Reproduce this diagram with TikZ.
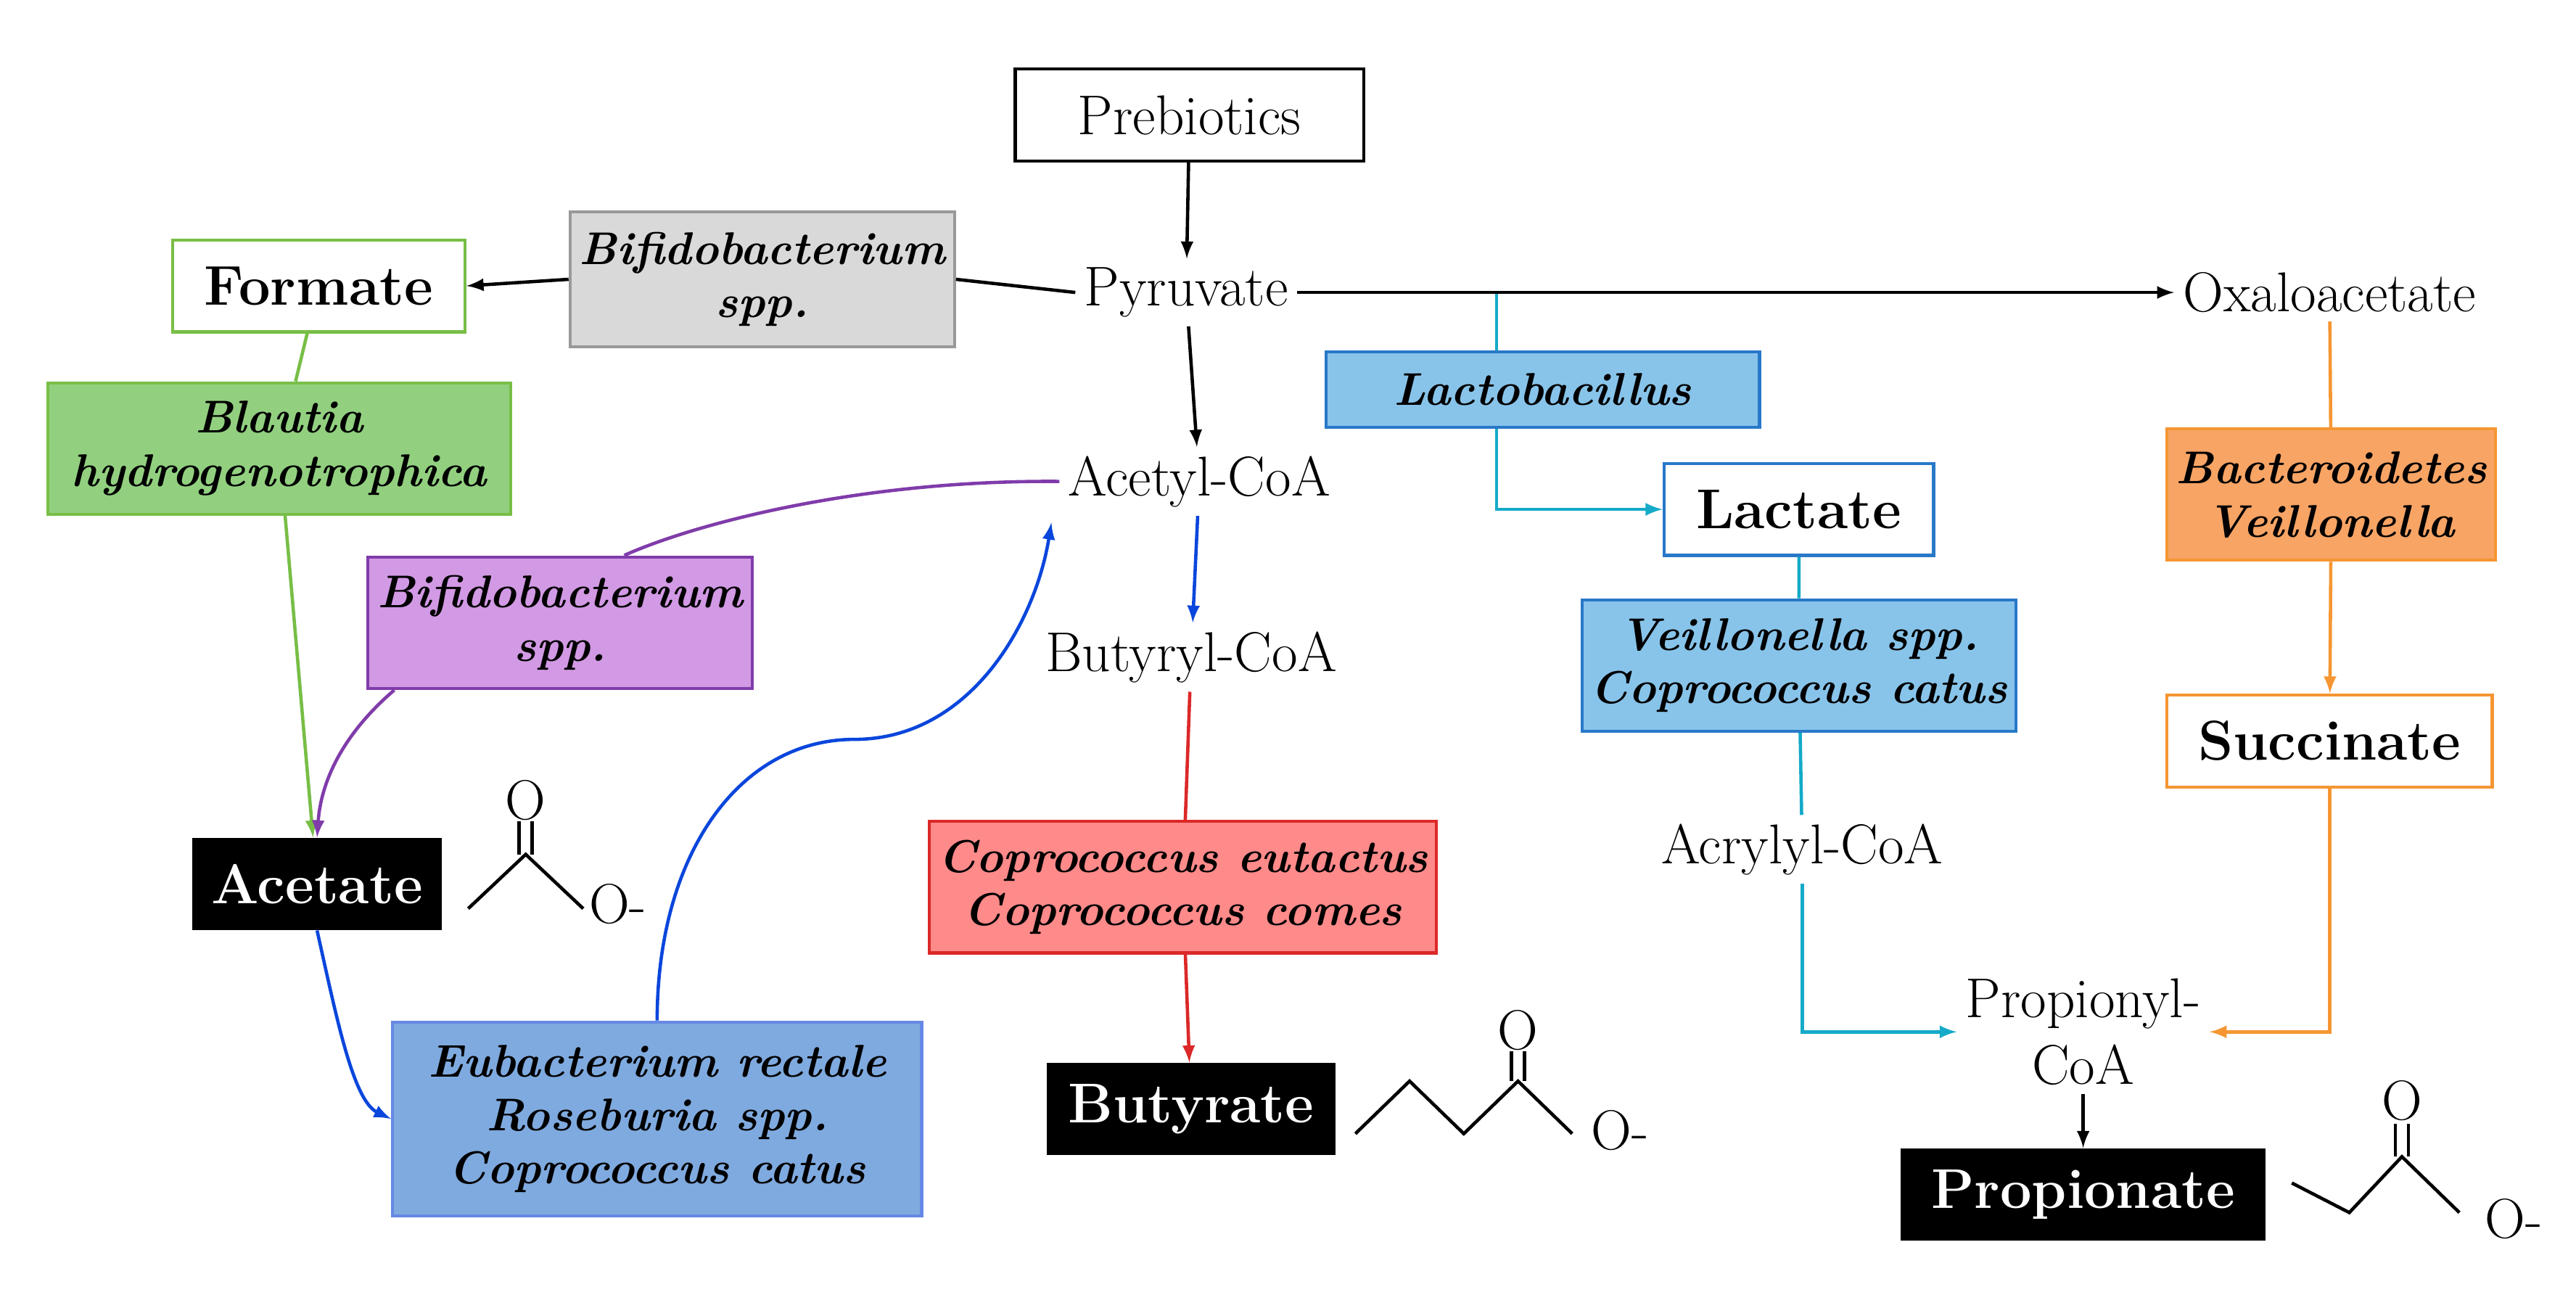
\documentclass[tikz,border=0pt]{standalone}
\usepackage{tikz}
\usepackage{xcolor}
\definecolor{grn}{RGB}{120,190,70}
\definecolor{grnfill}{RGB}{146,208,128}
\definecolor{purp}{RGB}{128,60,170}
\definecolor{purpfill}{RGB}{210,153,228}
\definecolor{blu}{RGB}{10,70,220}
\definecolor{blufill}{RGB}{127,170,223}
\definecolor{cyn}{RGB}{20,170,200}
\definecolor{cynfill}{RGB}{136,196,234}
\definecolor{cynbord}{RGB}{40,120,200}
\definecolor{org}{RGB}{245,150,50}
\definecolor{orgfill}{RGB}{247,164,101}
\definecolor{rd}{RGB}{220,40,40}
\definecolor{rdfill}{RGB}{255,138,138}
\def\px{0.02265cm}
\tikzset{
  lbl/.style={font=\fontsize{22}{26}\selectfont},
  box/.style={draw,line width=1.2pt,font=\fontsize{22}{26}\selectfont},
  bbox/.style={box,font=\fontsize{22}{26}\selectfont\bfseries},
  blk/.style={fill=black,text=white,font=\fontsize{22}{26}\selectfont\bfseries},
  bug/.style={draw,line width=1.2pt,align=center,font=\fontsize{18}{21}\selectfont\itshape\bfseries},
  con/.style={line width=1.3pt},
  arr/.style={con,-latex}
}
\begin{document}
\begin{tikzpicture}[x=0.02265cm,y=-0.02265cm]
\useasboundingbox (0,0) rectangle (1568,793);
% Nodes
\node[box,minimum width=212*\px,minimum height=56*\px] (preb) at (724,70) {Prebiotics};
\node[lbl] (pyr) at (722,178) {Pyruvate};
\node[bug,fill=black!15,draw=black!40,minimum width=234*\px,minimum height=82*\px] (bifa) at (464,170) {Bifidobacterium\\spp.};
\node[bbox,draw=grn,minimum width=178*\px,minimum height=56*\px] (form) at (194,174) {Formate};
\node[bug,fill=grnfill,draw=grn,minimum width=282*\px,minimum height=80*\px] (blau) at (170,273) {Blautia\\hydrogenotrophica};
\node[lbl] (acet) at (730,293) {Acetyl-CoA};
\node[lbl] (buty) at (725,400) {Butyryl-CoA};
\node[bug,fill=purpfill,draw=purp,minimum width=234*\px,minimum height=80*\px] (bifb) at (341,379) {Bifidobacterium\\spp.};
\node[blk,minimum width=152*\px,minimum height=56*\px] (acetate) at (193,538) {Acetate};
\node[bug,fill=blufill,draw=blufill!80!blue,minimum width=322*\px,minimum height=118*\px] (eub) at (400,681) {Eubacterium rectale\\Roseburia spp.\\Coprococcus catus};
\node[bug,fill=rdfill,draw=rd,minimum width=300*\px,minimum height=80*\px] (copr) at (720,540) {Coprococcus eutactus\\Coprococcus comes};
\node[blk,minimum width=176*\px,minimum height=56*\px] (butyrate) at (725,675) {Butyrate};
\node[bug,fill=cynfill,draw=cynbord,minimum width=264*\px,minimum height=46*\px] (lacto) at (939,237) {Lactobacillus};
\node[bbox,draw=cynbord,minimum width=164*\px,minimum height=56*\px] (lact) at (1095,310) {Lactate};
\node[bug,fill=cynfill,draw=cynbord,minimum width=264*\px,minimum height=80*\px] (veil) at (1095,405) {Veillonella spp.\\Coprococcus catus};
\node[lbl] (acry) at (1097,517) {Acrylyl-CoA};
\node[lbl] (oxal) at (1418,178) {Oxaloacetate};
\node[bug,fill=orgfill,draw=org,minimum width=200*\px,minimum height=80*\px] (bact) at (1419,301) {Bacteroidetes\\Veillonella};
\node[bbox,draw=org,minimum width=198*\px,minimum height=56*\px] (succ) at (1418,451) {Succinate};
\node[lbl,align=center] (prop) at (1268,628) {Propionyl-\\CoA};
\node[blk,minimum width=222*\px,minimum height=56*\px] (propionate) at (1268,727) {Propionate};
\coordinate (lacj) at (911,179);
\coordinate (laca) at (911,310);
\coordinate (acrj) at (1097,628);
\coordinate (sucj) at (1418,628);
% Connectors
\draw[arr] (preb) -- (pyr);
\draw[con] (pyr.west) -- (bifa.east);
\draw[arr] (bifa.west) -- (form.east);
\draw[arr] (pyr) -- (acet);
\draw[arr] (pyr.east) -- (oxal.west);
\draw[con,cyn] (lacj) -- (lacto.north -| lacj);
\draw[arr,cyn] (lacto.south -| lacj) -- (laca) -- (lact.west);
\draw[con,cyn] (lact) -- (veil) -- (acry);
\draw[arr,cyn] (acry) -- (acrj) -- (prop.west |- acrj);
\draw[con,org] (oxal) -- (bact);
\draw[arr,org] (bact) -- (succ);
\draw[arr,org] (succ) -- (sucj) -- (prop.east |- sucj);
\draw[arr] (prop) -- (propionate);
\draw[arr,blu] (acet) -- (buty);
\draw[con,rd] (buty) -- (copr);
\draw[arr,rd] (copr) -- (butyrate);
\draw[con,grn] (form) -- (blau);
\draw[arr,grn] (blau) -- (acetate);
\draw[con,purp] (acet.west) .. controls (520,292) and (420,320) .. (380,338);
\draw[arr,purp] (240,420) .. controls (205,450) and (195,480) .. (acetate.north);
\draw[arr,blu] (acetate.south) .. controls (205,620) and (215,670) .. (eub.west);
\draw[arr,blu] (eub.north) .. controls (400,520) and (450,450) .. (520,450) .. controls (590,450) and (630,380) .. (640,318);
% Structures
\draw[line width=1.3pt] (285,553) -- (320,520) -- (355,553);
\draw[line width=1.3pt] (316,520) -- (316,500) (324,520) -- (324,500);
\node[lbl] at (320,487) {O};
\node[lbl] at (376,550) {O-};
\draw[line width=1.3pt] (825,690) -- (858,658) -- (891,690) -- (924,658) -- (957,690);
\draw[line width=1.3pt] (920,658) -- (920,640) (928,658) -- (928,640);
\node[lbl] at (924,627) {O};
\node[lbl] at (986,688) {O-};
\draw[line width=1.3pt] (1395,720) -- (1430,738) -- (1462,704) -- (1497,738);
\draw[line width=1.3pt] (1458,704) -- (1458,684) (1466,704) -- (1466,684);
\node[lbl] at (1462,670) {O};
\node[lbl] at (1530,742) {O-};
\end{tikzpicture}
\end{document}
